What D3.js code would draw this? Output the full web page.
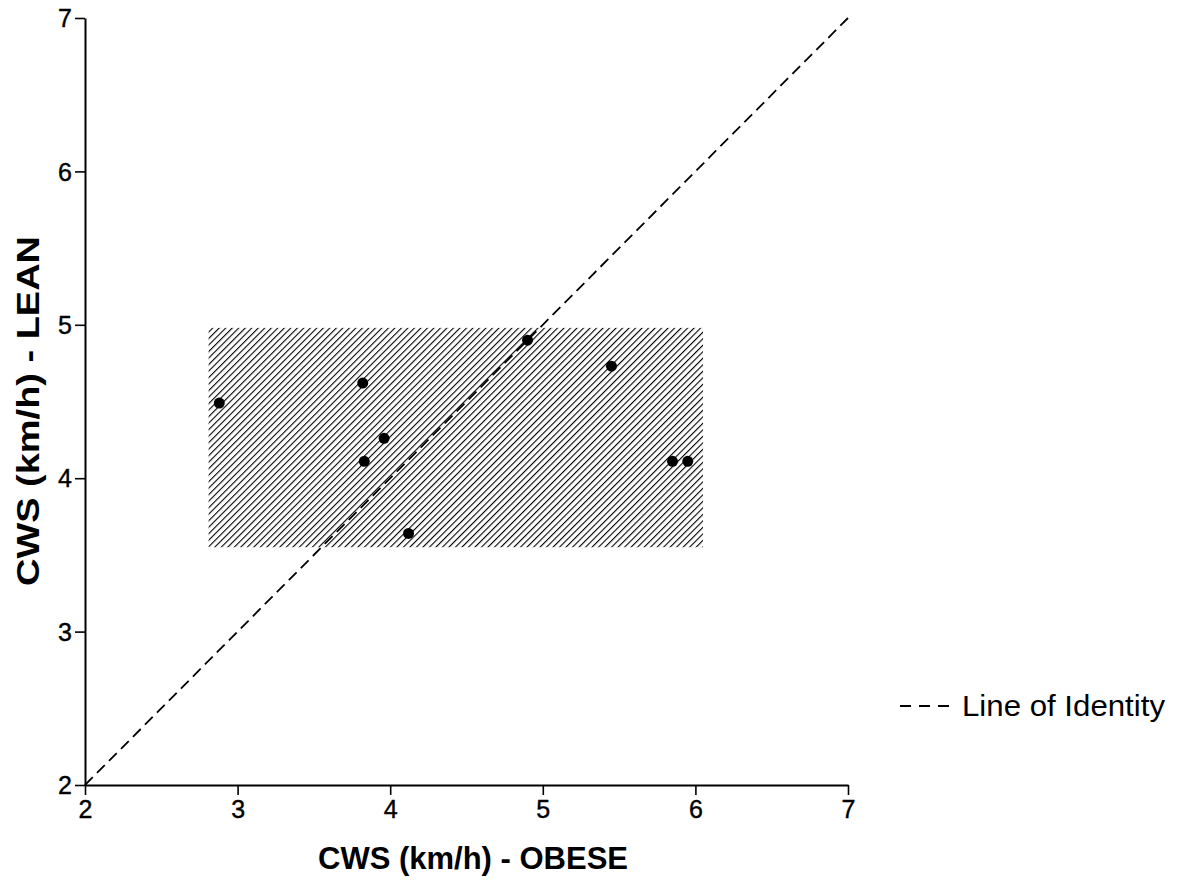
<!DOCTYPE html>
<html>
<head>
<meta charset="utf-8">
<script src="https://cdn.jsdelivr.net/npm/d3@7"></script>
<style>
  html, body { margin: 0; padding: 0; background: #fff; }
  svg { display: block; font-family: "Liberation Sans", Arial, sans-serif; }
</style>
</head>
<body>
<svg id="chart" width="1183" height="883"></svg>
<script>
// ---- data ----
const obese = [2.88, 3.82, 3.96, 3.83, 4.12, 4.90, 5.45, 5.85, 5.95];
const lean  = [4.49, 4.62, 4.26, 4.11, 3.64, 4.90, 4.73, 4.11, 4.11];
const boxX = [2.81, 6.05];
const boxY = [3.55, 4.98];
const identity = [2, 7];
const xTicks = [2, 3, 4, 5, 6, 7];
const yTicks = [2, 3, 4, 5, 6, 7];
const xTitle = "CWS (km/h) - OBESE";
const yTitle = "CWS (km/h) - LEAN";
const legendLabel = "Line of Identity";

const svg = d3.select("#chart");
const x = d3.scaleLinear().domain([2, 7]).range([85, 848]);
const y = d3.scaleLinear().domain([2, 7]).range([785, 18]);

// hatch pattern
const defs = svg.append("defs");
const pat = defs.append("pattern")
  .attr("id", "hatch")
  .attr("patternUnits", "userSpaceOnUse")
  .attr("width", 4.6).attr("height", 4.6)
  .attr("patternTransform", "rotate(45)");
pat.append("line")
  .attr("x1", 0).attr("y1", 0).attr("x2", 0).attr("y2", 4.6)
  .attr("stroke", "#000").attr("stroke-width", 2.2);

// shaded box
svg.append("rect")
  .attr("x", x(boxX[0])).attr("y", y(boxY[1]))
  .attr("width", x(boxX[1]) - x(boxX[0]))
  .attr("height", y(boxY[0]) - y(boxY[1]))
  .attr("fill", "url(#hatch)");

// identity line
svg.append("line")
  .attr("x1", x(identity[0])).attr("y1", y(identity[0]))
  .attr("x2", x(identity[1])).attr("y2", y(identity[1]))
  .attr("stroke", "#000").attr("stroke-width", 1.8)
  .attr("stroke-dasharray", "11,6");

// axes
const xAxis = svg.append("g").attr("transform", `translate(0,${y(2)})`)
  .call(d3.axisBottom(x).tickValues(xTicks).tickFormat(d3.format("d")).tickSize(10).tickSizeOuter(0));
const yAxis = svg.append("g").attr("transform", `translate(${x(2)},0)`)
  .call(d3.axisLeft(y).tickValues(yTicks).tickFormat(d3.format("d")).tickSize(10).tickSizeOuter(0));
[xAxis, yAxis].forEach(g => {
  g.attr("font-size", 25).attr("font-family", "'Liberation Sans', Arial, sans-serif");
  g.select(".domain").attr("stroke", "#000").attr("stroke-width", 2);
  g.selectAll(".tick line").attr("stroke", "#000").attr("stroke-width", 1.6);
  g.selectAll(".tick text").attr("fill", "#000").attr("font-size", 25)
    .attr("stroke", "#000").attr("stroke-width", 0.4);
});
xAxis.selectAll(".tick text").attr("y", 14).attr("dy", "0.75em");
yAxis.selectAll(".tick text").attr("x", -13).attr("dy", "0.35em");

// points
svg.append("g").selectAll("circle")
  .data(obese.map((d, i) => [d, lean[i]]))
  .join("circle")
  .attr("cx", d => x(d[0])).attr("cy", d => y(d[1]))
  .attr("r", 5.5).attr("fill", "#000");

// axis titles
svg.append("text")
  .attr("x", 473).attr("y", 869)
  .attr("text-anchor", "middle")
  .attr("textLength", 310).attr("lengthAdjust", "spacingAndGlyphs")
  .style("font-size", "31px").style("font-weight", "bold")
  .text(xTitle);
svg.append("text")
  .attr("transform", "translate(39,411) rotate(-90)")
  .attr("text-anchor", "middle")
  .attr("textLength", 350).attr("lengthAdjust", "spacingAndGlyphs")
  .style("font-size", "31px").style("font-weight", "bold")
  .text(yTitle);

// legend
svg.append("line")
  .attr("x1", 900).attr("x2", 949).attr("y1", 706).attr("y2", 706)
  .attr("stroke", "#000").attr("stroke-width", 2)
  .attr("stroke-dasharray", "11,8");
svg.append("text")
  .attr("x", 962).attr("y", 716)
  .attr("textLength", 203).attr("lengthAdjust", "spacingAndGlyphs")
  .style("font-size", "29px")
  .text(legendLabel);
</script>
</body>
</html>
